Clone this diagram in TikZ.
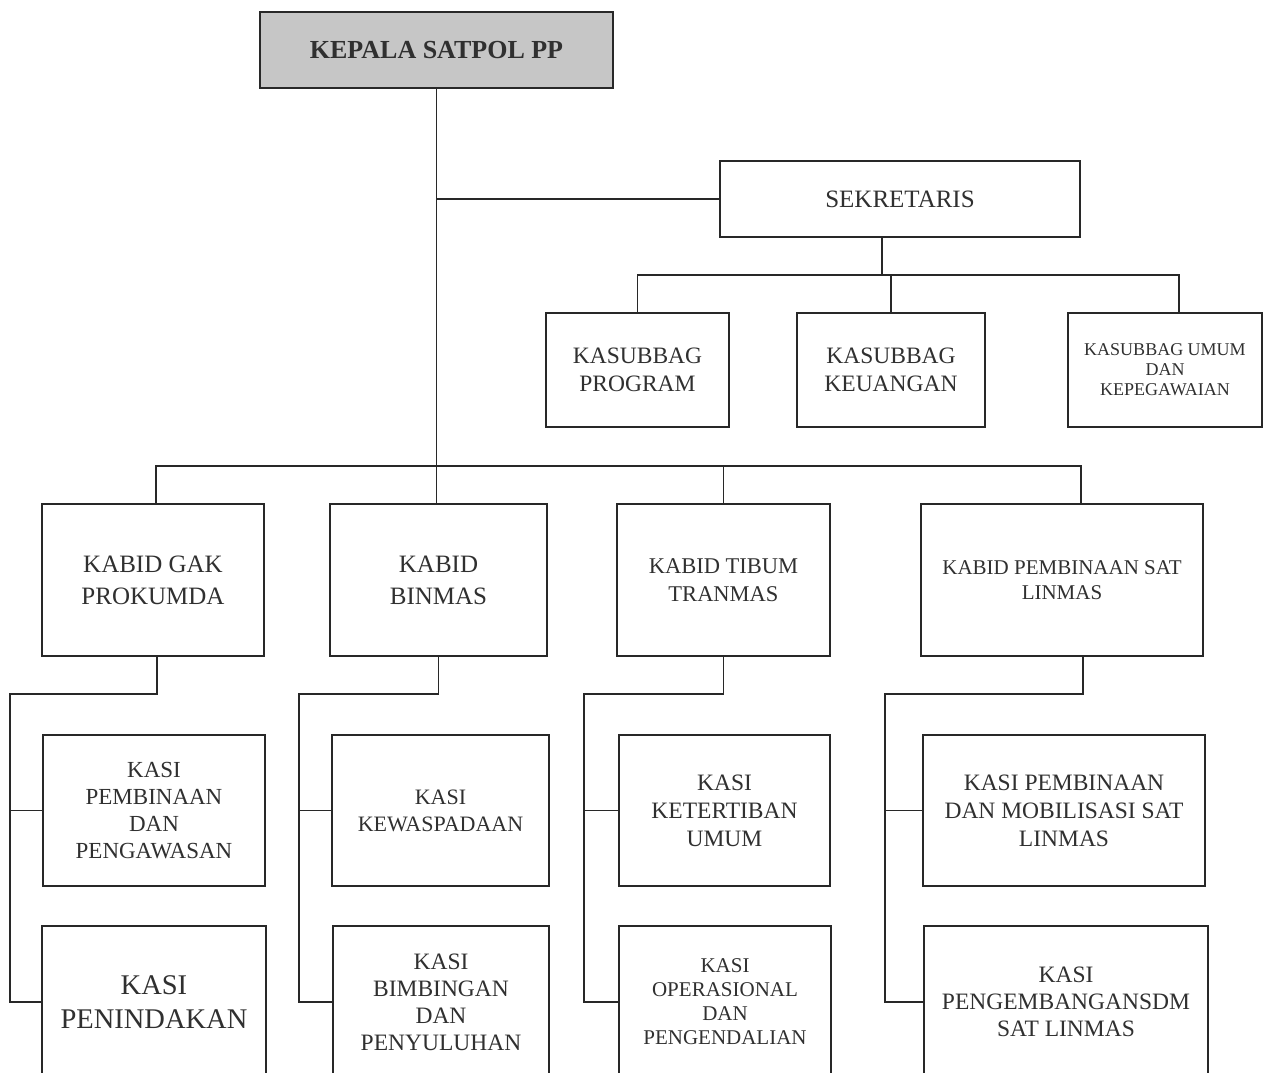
\documentclass[tikz,border=0pt]{standalone}
\usepackage{fontspec}
\setmainfont{Liberation Serif}
\usetikzlibrary{calc}

\definecolor{ink}{HTML}{282828}
\definecolor{txt}{HTML}{303030}
\definecolor{headfill}{HTML}{C6C6C6}

\newcommand{\fs}[2]{\fontsize{#1}{#2}\selectfont}

\tikzset{
  unitbox/.style={draw=ink, line width=2.1pt, fill=white, text=txt,
    align=center, inner sep=0pt, minimum width=#1},
  headbox/.style={unitbox=353pt, fill=headfill, minimum height=76pt,
    font=\bfseries\fs{26}{31}},
  link/.style={draw=ink, line width=1.7pt, line join=miter},
}

\begin{document}
\begin{tikzpicture}[x=1pt, y=-1pt]
  \useasboundingbox (0,0) rectangle (1264,1073);
  \clip (0,0) rectangle (1264,1073);
  \fill[white] (0,0) rectangle (1264,1073);

  % head and secretariat
  \node[headbox] (kep) at (436.5,50) {KEPALA SATPOL PP};
  \node[unitbox=360pt, minimum height=76pt, font=\fs{25}{30}] (sek) at (900,199) {SEKRETARIS};

  % sub-sections of the secretariat
  \node[unitbox=183pt, minimum height=114pt, font=\fs{23.5}{28}] (s1) at (637.5,370) {KASUBBAG\\PROGRAM};
  \node[unitbox=188pt, minimum height=114pt, font=\fs{23.5}{28}] (s2) at (891,370) {KASUBBAG\\KEUANGAN};
  \node[unitbox=194pt, minimum height=114pt, font=\fs{18}{20}] (s3) at (1165,370) {KASUBBAG UMUM\\DAN\\KEPEGAWAIAN};

  % divisions
  \node[unitbox=222pt, minimum height=152pt, font=\fs{25}{32}] (k1) at (153,580) {KABID GAK\\PROKUMDA};
  \node[unitbox=217pt, minimum height=152pt, font=\fs{25}{32}] (k2) at (438.5,580) {KABID\\BINMAS};
  \node[unitbox=213pt, minimum height=152pt, font=\fs{22.5}{28}] (k3) at (723.5,580) {KABID TIBUM\\TRANMAS};
  \node[unitbox=282pt, minimum height=152pt, font=\fs{21}{25}] (k4) at (1062,580) {KABID PEMBINAAN SAT\\LINMAS};

  % sections, first row
  \node[unitbox=222pt, minimum height=151pt, font=\fs{23}{27}] (p1) at (154,810.5) {KASI\\PEMBINAAN\\DAN\\PENGAWASAN};
  \node[unitbox=217pt, minimum height=151pt, font=\fs{22}{27}] (p2) at (440.5,810.5) {KASI\\KEWASPADAAN};
  \node[unitbox=211pt, minimum height=151pt, font=\fs{23.5}{28}] (p3) at (724.5,810.5) {KASI\\KETERTIBAN\\UMUM};
  \node[unitbox=282pt, minimum height=151pt, font=\fs{23.5}{28}] (p4) at (1064,810.5) {KASI PEMBINAAN\\DAN MOBILISASI SAT\\LINMAS};

  % sections, second row
  \node[unitbox=224pt, minimum height=152pt, font=\fs{28.5}{34}] (q1) at (154,1002) {KASI\\PENINDAKAN};
  \node[unitbox=216pt, minimum height=152pt, font=\fs{23.5}{27}] (q2) at (441,1002) {KASI\\BIMBINGAN\\DAN\\PENYULUHAN};
  \node[unitbox=212pt, minimum height=152pt, font=\fs{21}{24}] (q3) at (725,1002) {KASI\\OPERASIONAL\\DAN\\PENGENDALIAN};
  \node[unitbox=284pt, minimum height=152pt, font=\fs{23.5}{27}] (q4) at (1066,1002) {KASI\\PENGEMBANGANSDM\\SAT LINMAS};

  % bus levels
  \coordinate (sb) at (0,275);
  \coordinate (kb) at (0,466);
  \coordinate (c1) at (10,694);
  \coordinate (c2) at (299,694);
  \coordinate (c3) at (584,694);
  \coordinate (c4) at (885,694);

  % main trunk and branch to the secretariat
  \draw[link] (kep.south) -- (kep.south |- k2.north);
  \draw[link] (kep.south |- sek.west) -- (sek.west);

  % secretariat to its sub-sections
  \draw[link] ([xshift=-18pt]sek.south) -- ([xshift=-18pt]sek.south |- sb);
  \draw[link] (s1.north) |- ([xshift=14pt]s3.north |- sb) -- ([xshift=14pt]s3.north);
  \draw[link] (s2.north |- sb) -- (s2.north);

  % trunk to the divisions
  \draw[link] ([xshift=3pt]k1.north) |- ([xshift=19pt]k4.north |- kb) -- ([xshift=19pt]k4.north);
  \draw[link] (k3.north |- kb) -- (k3.north);

  % divisions to their sections
  \draw[link] ([xshift=4pt]k1.south) |- (c1) |- (q1.west);
  \draw[link] (c1 |- p1.west) -- (p1.west);
  \draw[link] (k2.south) |- (c2) |- (q2.west);
  \draw[link] (c2 |- p2.west) -- (p2.west);
  \draw[link] (k3.south) |- (c3) |- (q3.west);
  \draw[link] (c3 |- p3.west) -- (p3.west);
  \draw[link] ([xshift=21pt]k4.south) |- (c4) |- (q4.west);
  \draw[link] (c4 |- p4.west) -- (p4.west);
\end{tikzpicture}
\end{document}
